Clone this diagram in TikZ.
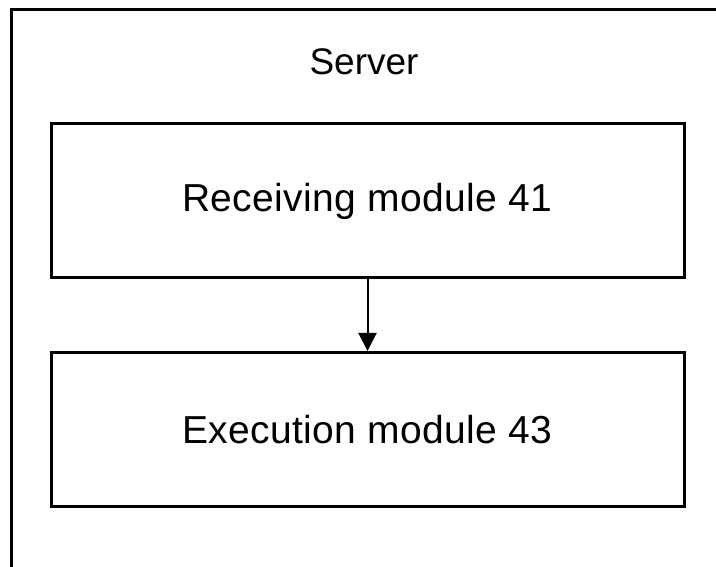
\documentclass[tikz,border=0pt]{standalone}
\usepackage{fontspec}
\setmainfont{Liberation Sans}
\usetikzlibrary{arrows.meta}
\begin{document}
\begin{tikzpicture}[x=1pt,y=-1pt]
\tikzset{module/.style={draw,line width=3pt,minimum width=633pt,minimum height=154pt,inner sep=0pt,font=\fontsize{39}{42}\selectfont\addfontfeature{LetterSpace=1}}}
\useasboundingbox (0,0) rectangle (716,567);
\clip (0,0) rectangle (716,567);
\draw[line width=3pt] (11,10) rectangle (760,620);
\node[font=\fontsize{37}{40}\selectfont] (server) at (364,62) {Server};
\node[module] (41) at (367.5,201) {Receiving module 41};
\node[module] (43) at (367.5,429.5) {Execution module 43};

\path[draw,line width=2pt,-{Triangle[length=18pt,width=18pt]}] (41) -- (43);
\end{tikzpicture}
\end{document}
